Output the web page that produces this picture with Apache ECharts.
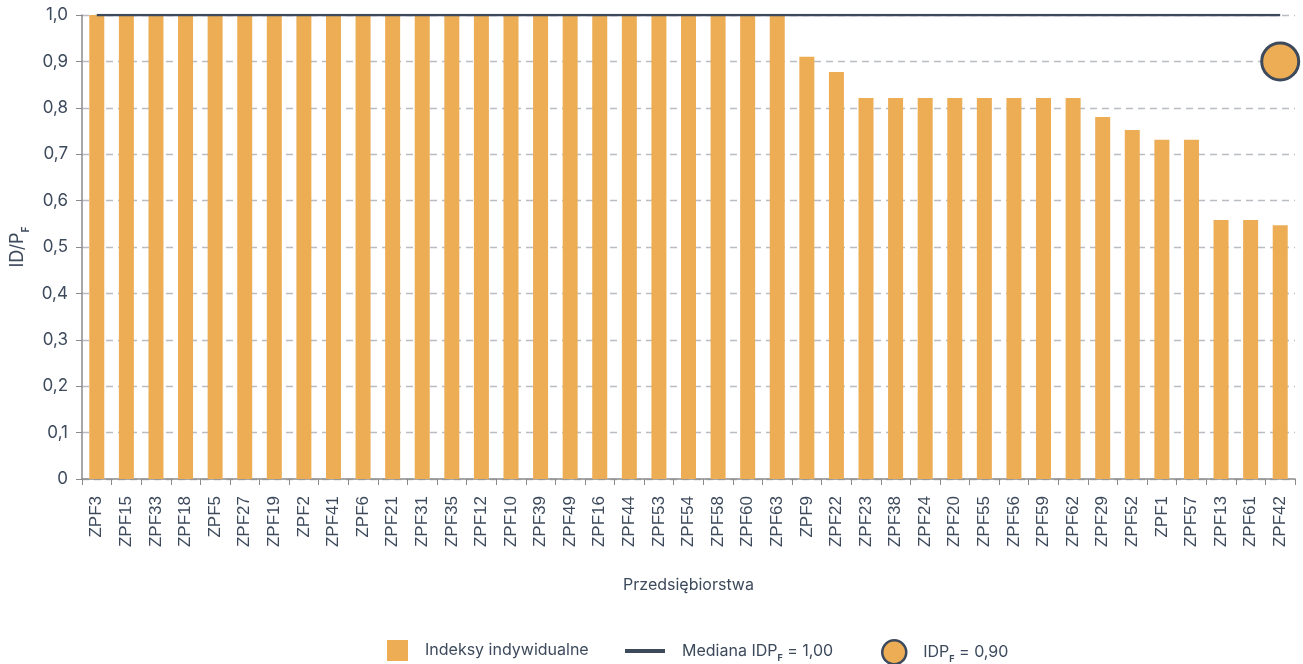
<!DOCTYPE html>
<html>
<head>
<meta charset="utf-8">
<script src="https://cdn.jsdelivr.net/npm/echarts@6/dist/echarts.min.js"></script>
<style>html,body{margin:0;padding:0;background:#fff}#c{width:1303px;height:664px}</style>
</head>
<body>
<div id="c"></div>
<script>
const categories = ['ZPF3','ZPF15','ZPF33','ZPF18','ZPF5','ZPF27','ZPF19','ZPF2','ZPF41','ZPF6','ZPF21','ZPF31','ZPF35','ZPF12','ZPF10','ZPF39','ZPF49','ZPF16','ZPF44','ZPF53','ZPF54','ZPF58','ZPF60','ZPF63','ZPF9','ZPF22','ZPF23','ZPF38','ZPF24','ZPF20','ZPF55','ZPF56','ZPF59','ZPF62','ZPF29','ZPF52','ZPF1','ZPF57','ZPF13','ZPF61','ZPF42'];
const individualValues = [1,1,1,1,1,1,1,1,1,1,1,1,1,1,1,1,1,1,1,1,1,1,1,1,0.91,0.877,0.821,0.821,0.821,0.821,0.821,0.821,0.821,0.821,0.78,0.752,0.731,0.731,0.558,0.558,0.547];
const medianValue = 1.00;
const idpValue = 0.90;

const textColor = '#3d4a5c';
const barColor = '#ECAD55';
const lineColor = '#3d4a5c';
const subRich = {
  n: {fontFamily: 'Inter', fontSize: 16, color: textColor, lineHeight: 24},
  s: {fontFamily: 'Inter', fontSize: 9, fontWeight: 'bold', color: textColor, verticalAlign: 'bottom', padding: [7,0,0,0], lineHeight: 24}
};
const names = {
  bar: 'Indeksy indywidualne',
  line: 'Mediana IDPF = 1,00',
  dot: 'IDPF = 0,90'
};
function legendFmt(n) {
  if (n === names.line) return '{n|Mediana IDP}{s|F}{n| = 1,00}';
  if (n === names.dot) return '{n|IDP}{s|F}{n| = 0,90}';
  return '{n|' + n + '}';
}
const chart = echarts.init(document.getElementById('c'));
const legendBase = {
  itemGap: 0, formatter: legendFmt, padding: 0,
  textStyle: {rich: subRich, padding: [0,0,0,12]}
};
chart.setOption({
  animation: false,
  grid: {left: 82, right: 8, top: 15, bottom: 185, containLabel: false, outerBoundsMode: 'none'},
  legend: [
    Object.assign({}, legendBase, {data: [{name: names.bar, icon: 'rect'}], left: 387, top: 640, itemWidth: 21, itemHeight: 21}),
    Object.assign({}, legendBase, {data: [{name: names.line, icon: 'path://M0,0 L40,0 L40,4 L0,4 Z'}], left: 625, top: 643, itemWidth: 40, itemHeight: 4}),
    Object.assign({}, legendBase, {data: [{name: names.dot, icon: 'circle'}], left: 881, top: 639, itemWidth: 24, itemHeight: 24, itemStyle: {borderColor: lineColor, borderWidth: 2.5}})
  ],
  xAxis: {
    type: 'category', data: categories,
    name: 'Przedsiębiorstwa', nameLocation: 'middle', nameGap: 98,
    nameTextStyle: {fontFamily: 'Inter', fontSize: 16, color: textColor},
    axisLine: {lineStyle: {color: '#8a8a8a', width: 1.5}},
    axisTick: {show: true, alignWithLabel: false, length: 6, lineStyle: {color: '#8a8a8a'}},
    axisLabel: {rotate: 90, interval: 0, fontFamily: 'Liberation Sans', fontSize: 17, color: textColor, margin: 17}
  },
  yAxis: {
    type: 'value', min: 0, max: 1, interval: 0.1,
    name: '{n|ID/P}{s|F}', nameLocation: 'middle', nameGap: 50, nameRotate: 90,
    nameTextStyle: {rich: {n: {fontFamily: 'Inter', fontSize: 18, color: textColor, lineHeight: 26}, s: {fontFamily: 'Inter', fontSize: 10, fontWeight: 'bold', color: textColor, verticalAlign: 'bottom', padding: [8,0,0,0], lineHeight: 26}}},
    axisLine: {show: true, lineStyle: {color: '#8a8a8a', width: 1.5}},
    axisTick: {show: true, length: 6, lineStyle: {color: '#8a8a8a'}},
    axisLabel: {fontFamily: 'Inter', fontSize: 17, color: textColor, margin: 14,
      formatter: v => v === 0 ? '0' : v.toFixed(1).replace('.', ',')},
    splitLine: {lineStyle: {color: '#b9bcc2', type: [7,5], width: 1.3}}
  },
  series: [
    {name: names.bar, type: 'bar', data: individualValues, barWidth: 15, itemStyle: {color: barColor}},
    {name: names.line, type: 'line', data: categories.map(() => medianValue), symbol: 'none',
      lineStyle: {color: lineColor, width: 2.5}, itemStyle: {color: lineColor}, z: 5},
    {name: names.dot, type: 'scatter', data: [[categories[categories.length - 1], idpValue]], symbolSize: 37,
      itemStyle: {color: barColor, borderColor: lineColor, borderWidth: 3, opacity: 1}, z: 6}
  ]
});
</script>
</body>
</html>
